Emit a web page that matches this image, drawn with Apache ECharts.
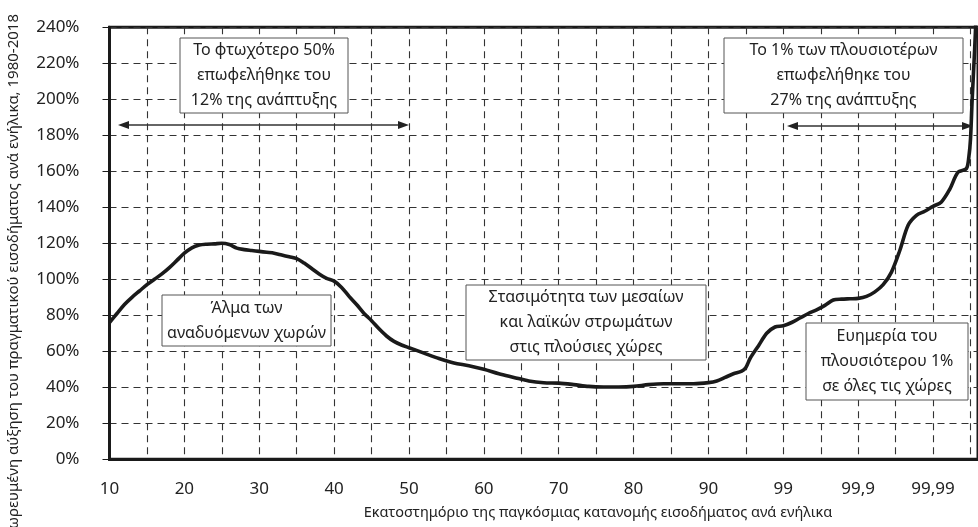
<!DOCTYPE html>
<html><head><meta charset="utf-8">
<script src="https://cdn.jsdelivr.net/npm/echarts@6/dist/echarts.min.js"></script>
<style>html,body{margin:0;padding:0;background:#fff}#c{width:978px;height:527px}</style>
</head><body><div id="c"></div>
<script>
// Percentile ranks of the world income distribution (x) and cumulative real income growth 1980-2018 (%)
const percentiles = [10,11,12,13,14,15,16,17,18,19,20,21,22,23,24,25,26,27,28,29,30,31,32,33,34,35,36,37,38,39,40,41,42,43,44,45,46,47,48,49,50,52,54,56,58,60,62,64,66,68,70,72,74,76,78,80,82,84,86,88,90,91,92,93,94,94.5,95,96,97,98,99,99.1,99.2,99.3,99.4,99.5,99.6,99.7,99.8,99.9,99.91,99.92,99.93,99.94,99.95,99.96,99.97,99.98,99.99,99.991,99.992,99.993,99.994,99.9943,99.9945,99.9947,99.995,99.9952];
const growth = [76,81,86,90,93.5,97,100,103,106.5,110.5,114.5,117.5,119,119.5,119.7,120,119.3,117.3,116.5,116,115.5,115,114.5,113.5,112.5,111.5,109,106,103,100.5,99,95.5,90.5,86,81,77,72.5,68.5,65.5,63.5,62,59,56,53.5,52,50,47.5,45.5,43.5,42.5,42.3,41.5,40.5,40.2,40.2,40.5,41.5,42,42,42,42.6,43.5,45.5,47.5,49,51,56,63,70,73.5,74.2,76,78.5,81,83,85.5,88.5,89,89.2,89.4,90.5,93,97,104,116,130,135.5,137.8,140.5,143,150,159.5,161.5,168,178,200,228,250];
const tickLabels = ['10','20','30','40','50','60','70','80','90','99','99,9','99,99'];

const xName = 'Εκατοστημόριο της παγκόσμιας κατανομής εισοδήματος ανά ενήλικα';
const yName = 'Σωρευμένη αύξηση του πραγματικού εισοδήματος ανά ενήλικα, 1980-2018';
const notes = [
  {text:'Το φτωχότερο 50%\nεπωφελήθηκε του\n12% της ανάπτυξης', box:[180,38,168,75]},
  {text:'Το 1% των πλουσιοτέρων\nεπωφελήθηκε του\n27% της ανάπτυξης', box:[724,38,239,75]},
  {text:'Άλμα των\nαναδυόμενων χωρών', box:[162,295,169,51]},
  {text:'Στασιμότητα των μεσαίων\nκαι λαϊκών στρωμάτων\nστις πλούσιες χώρες', box:[466,285,240,75]},
  {text:'Ευημερία του\nπλουσιότερου 1%\nσε όλες τις χώρες', box:[806,323,162,77]}
];
const arrows = [[118,409,125],[787,973,126]];

function rankPos(p){
  if (p<=90) return (p-10)/10;
  if (p<=99) return 8+(p-90)/9;
  if (p<=99.9) return 9+(p-99)/0.9;
  if (p<=99.99) return 10+(p-99.9)/0.09;
  return 11+(p-99.99)/0.009;
}
const seriesData = percentiles.map((p,i)=>[rankPos(p), growth[i]]);

const FONT = '"Noto Sans", sans-serif';
const graphics = [];
notes.forEach(n=>{
  const [x,y,w,h]=n.box;
  graphics.push({type:'rect', shape:{x:x,y:y,width:w,height:h}, style:{fill:'#fff',stroke:'#555',lineWidth:1}, z:10});
  graphics.push({type:'text', x:x+w/2, y:y+h/2, style:{text:n.text, fill:'#222', font:'16px '+FONT, align:'center', verticalAlign:'middle', lineHeight:25}, z:11});
});
arrows.forEach(a=>{
  const [x1,x2,y]=a;
  graphics.push({type:'line', shape:{x1:x1+6,y1:y,x2:x2-6,y2:y}, style:{stroke:'#333',lineWidth:1.3}, z:10});
  graphics.push({type:'polygon', shape:{points:[[x1,y],[x1+11,y-4],[x1+11,y+4]]}, style:{fill:'#222'}, z:10});
  graphics.push({type:'polygon', shape:{points:[[x2,y],[x2-11,y-4],[x2-11,y+4]]}, style:{fill:'#222'}, z:10});
});
graphics.push({type:'text', x:14, y:14, rotation:Math.PI/2, style:{text:yName, fill:'#222', font:'15px '+FONT, align:'right', verticalAlign:'middle'}});
graphics.push({type:'text', x:598, y:513, style:{text:xName, fill:'#222', font:'14.5px '+FONT, align:'center', verticalAlign:'middle'}});

const chart = echarts.init(document.getElementById('c'));
chart.setOption({
  animation:false,
  grid:{left:109.5, top:27.3, width:870, height:432, show:true, borderColor:'#1a1a1a', borderWidth:3},
  xAxis:{type:'value', min:0, max:11.6, interval:0.5,
    axisLine:{lineStyle:{color:'#1a1a1a', width:3}},
    axisTick:{show:false},
    axisLabel:{fontFamily:FONT, fontSize:17, color:'#222', margin:21, showMaxLabel:false,
      formatter:v=>{const k=Math.round(v*2)/2; return (Number.isInteger(k)&&k<tickLabels.length)?tickLabels[k]:'';}},
    splitLine:{show:true, lineStyle:{type:[7,5], color:'#333', width:1.1}}
  },
  yAxis:{type:'value', min:0, max:240, interval:20,
    axisLine:{show:true, lineStyle:{color:'#1a1a1a', width:3}},
    axisTick:{show:true, length:7, lineStyle:{color:'#1a1a1a', width:1}},
    axisLabel:{fontFamily:FONT, fontSize:17, color:'#222', margin:30, formatter:v=>v+'%'},
    splitLine:{show:true, lineStyle:{type:[7,5], color:'#333', width:1.1}}
  },
  series:[{type:'line', data:seriesData, smooth:0.3, showSymbol:false, clip:true,
    lineStyle:{color:'#1a1a1a', width:3.6}}],
  graphic:graphics
});
</script></body></html>
